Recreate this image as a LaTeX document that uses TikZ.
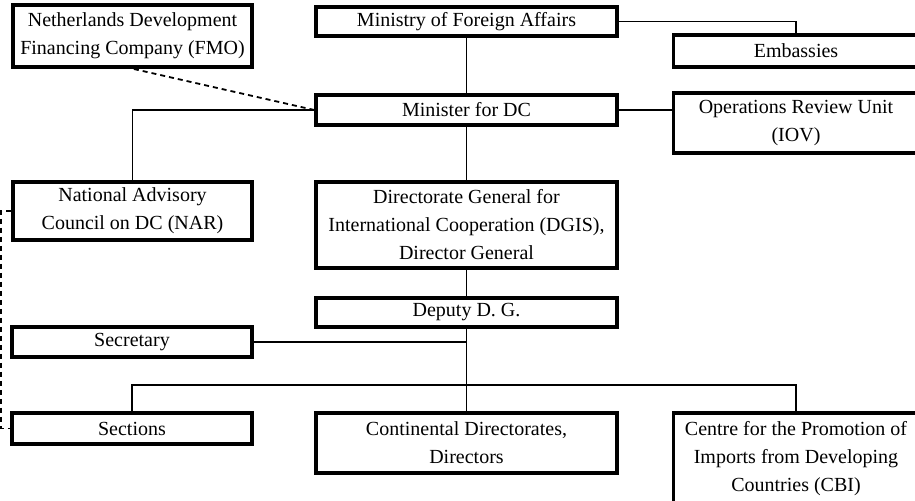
\documentclass[tikz,border=0pt]{standalone}
\usepackage{fontspec}
\setmainfont{Liberation Serif}
\usepackage{tikz}
\usetikzlibrary{calc}

\tikzset{
    unit/.style={draw, line width=1.7pt, inner sep=0pt, align=center,
        font=\fontsize{10}{14}\selectfont},
    link/.style={line width=0.7pt},
    dlink/.style={line width=0.9pt, dash pattern=on 2.5pt off 2pt}
}

\begin{document}
\begin{tikzpicture}[x=0.5pt, y=-0.5pt]
            \useasboundingbox (0,0) rectangle (915,501);

            \node[unit, minimum width=119.5pt, minimum height=31pt] (fmo) at (132.5,36) {Netherlands Development\\Financing Company (FMO)};
            \node[unit, minimum width=150.5pt, minimum height=14.5pt] (mfa) at (466.5,21.5) {Ministry of Foreign Affairs};
            \node[unit, minimum width=122.5pt, minimum height=16pt] (emb) at (796,51) {Embassies};
            \node[unit, minimum width=150.5pt, minimum height=15pt] (min) at (466.5,110) {Minister for DC};
            \node[unit, minimum width=122.5pt, minimum height=30pt] (iov) at (796,123) {Operations Review Unit\\(IOV)};
            \node[unit, minimum width=119.5pt, minimum height=29pt] (nar) at (132.5,211) {National Advisory\\Council on DC (NAR)};
            \node[unit, minimum width=150.5pt, minimum height=43pt] (dgis) at (466.5,225) {Directorate General for\\International Cooperation (DGIS),\\Director General};
            \node[unit, minimum width=150.5pt, minimum height=14.5pt] (ddg) at (466.5,312.5) {Deputy D. G.};
            \node[unit, minimum width=120pt, minimum height=15pt] (sec) at (132,342) {Secretary};
            \node[unit, minimum width=120pt, minimum height=15.5pt] (sect) at (132,428.5) {Sections};
            \node[unit, minimum width=150.5pt, minimum height=30pt] (cont) at (466.5,443) {Continental Directorates,\\Directors};
            \node[unit, minimum width=122.5pt, minimum height=46pt] (cbi) at (796,459) {Centre for the Promotion of\\Imports from Developing\\Countries (CBI)};

            % solid lines
            \draw[link] (mfa.east) -| (emb.north);
            \draw[link] (mfa) -- (min);
            \draw[link] (min.east) -- (min.east -| iov.west);
            \draw[link] (min.west) -| (nar.north);
            \draw[link] (min) -- (dgis);
            \draw[link] (dgis) -- (ddg);
            \draw[link] (ddg.south) -- (cont.north);
            \draw[link] (sec.east) -- (sec.east -| ddg.south);
            \coordinate (bus) at (466.5,385);
            \draw[link] (sect.north) |- (bus) -| (cbi.north);

            % dashed lines
            \draw[dlink] (min.west) -- (fmo.south);
            \draw[dlink] (nar.west) -- ++(-10,0) |- (sect.west);
        \end{tikzpicture}
\end{document}
